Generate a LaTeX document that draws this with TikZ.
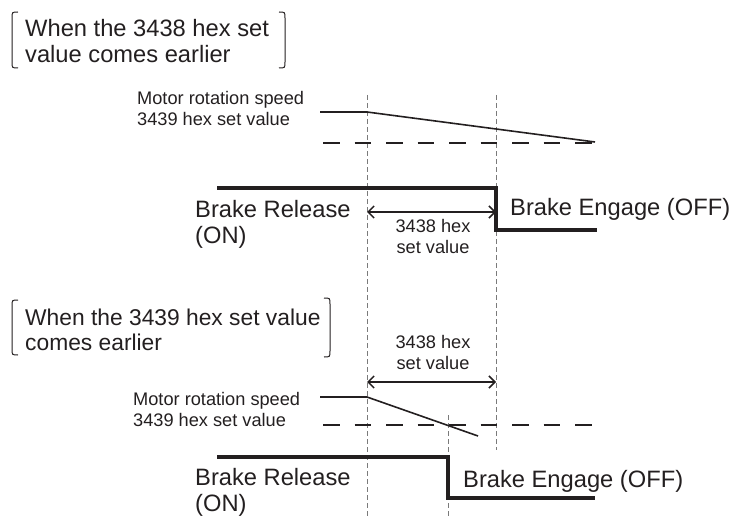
\documentclass[tikz,border=0pt]{standalone}
\usepackage{fontspec}
\setmainfont{Liberation Sans}
\usetikzlibrary{arrows.meta}
\definecolor{ink}{HTML}{231F20}
\definecolor{guide}{HTML}{7A7A7A}
\begin{document}
\begin{tikzpicture}[x=1pt,y=-1pt,
  bigtext/.style={font=\fontsize{23.7}{26}\selectfont, text=ink, inner sep=0pt, align=left, anchor=base west},
  smalltext/.style={font=\fontsize{18.2}{20.5}\selectfont, text=ink, inner sep=0pt, align=left, anchor=base west},
  guideline/.style={draw=guide, line width=1pt, dash pattern=on 5pt off 3pt},
  threshold/.style={draw=ink, line width=2.5pt, dash pattern=on 16.5pt off 15pt},
  speedline/.style={draw=ink, line width=1.6pt},
  brakeline/.style={draw=ink, line width=4pt, line join=miter},
  bracketline/.style={draw=ink, line width=1pt},
  span/.style={draw=ink, line width=1.5pt, {Straight Barb[length=6pt,width=12pt]}-{Straight Barb[length=6pt,width=12pt]}}
]
\useasboundingbox (0,0) rectangle (733,516);

% ---------- top case ----------
\node[bigtext] (cap1) at (25,63) {When the 3438 hex set\\value comes earlier};
\draw[bracketline] (18,12) .. controls (12,12) .. (12,18) -- (12,62) .. controls (12,68) .. (18,68);
\draw[bracketline] (279,12) .. controls (285,12) .. (285,18) -- (285,62) .. controls (285,68) .. (279,68);

\coordinate (g1t) at (367,95);
\coordinate (g1b) at (367,516);
\coordinate (g2t) at (496,95);
\coordinate (g2b) at (496,450);
\draw[guideline] (g1t) -- (g1b);
\draw[guideline] (g2t) -- (g2b);

\node[smalltext] (ms1) at (137,125) {Motor rotation speed\\3439 hex set value};
\coordinate (s1a) at (320,112);
\coordinate (s1b) at (367,112);
\coordinate (s1c) at (595,142);
\draw[speedline] (s1a) -- (s1b) -- (s1c);
\coordinate (d1a) at (323,143);
\coordinate (d1b) at (595,143);
\draw[threshold] (d1a) -- (d1b);

\coordinate (b1a) at (217,188);
\coordinate (b1b) at (496,188);
\coordinate (b1c) at (496,230);
\coordinate (b1d) at (597,230);
\draw[brakeline] (b1a) -- (b1b) -- (b1c) -- (b1d);

\node[bigtext] (rel1) at (195,243) {Brake Release\\(ON)};
\node[bigtext] (eng1) at (510,215) {Brake Engage (OFF)};
\coordinate (a1l) at (367,212);
\coordinate (a1r) at (496,212);
\draw[span] (a1l) -- (a1r);
\node[smalltext, align=center, anchor=base] (hx1) at (433,253) {3438 hex\\set value};

% ---------- bottom case ----------
\node[bigtext, font=\fontsize{22.8}{25}\selectfont] (cap2) at (25,350) {When the 3439 hex set value\\comes earlier};
\draw[bracketline] (18,300) .. controls (12,300) .. (12,306) -- (12,349) .. controls (12,355) .. (18,355);
\draw[bracketline] (324,298) .. controls (330,298) .. (330,304) -- (330,351) .. controls (330,357) .. (324,357);

\node[smalltext, align=center, anchor=base] (hx2) at (433,369) {3438 hex\\set value};
\coordinate (a2l) at (367,382);
\coordinate (a2r) at (496,382);
\draw[span] (a2l) -- (a2r);

\coordinate (g3t) at (448,415);
\coordinate (g3b) at (448,516);
\draw[guideline] (g3t) -- (g3b);

\node[smalltext] (ms2) at (133,426) {Motor rotation speed\\3439 hex set value};
\coordinate (s2a) at (320,397);
\coordinate (s2b) at (367,397);
\coordinate (s2c) at (478,436);
\draw[speedline] (s2a) -- (s2b) -- (s2c);
\coordinate (d2a) at (323,425);
\coordinate (d2b) at (595,425);
\draw[threshold] (d2a) -- (d2b);

\coordinate (b2a) at (217,457);
\coordinate (b2b) at (448,457);
\coordinate (b2c) at (448,498);
\coordinate (b2d) at (595,498);
\draw[brakeline] (b2a) -- (b2b) -- (b2c) -- (b2d);

\node[bigtext] (rel2) at (195,511) {Brake Release\\(ON)};
\node[bigtext] (eng2) at (463,487) {Brake Engage (OFF)};
\end{tikzpicture}
\end{document}
